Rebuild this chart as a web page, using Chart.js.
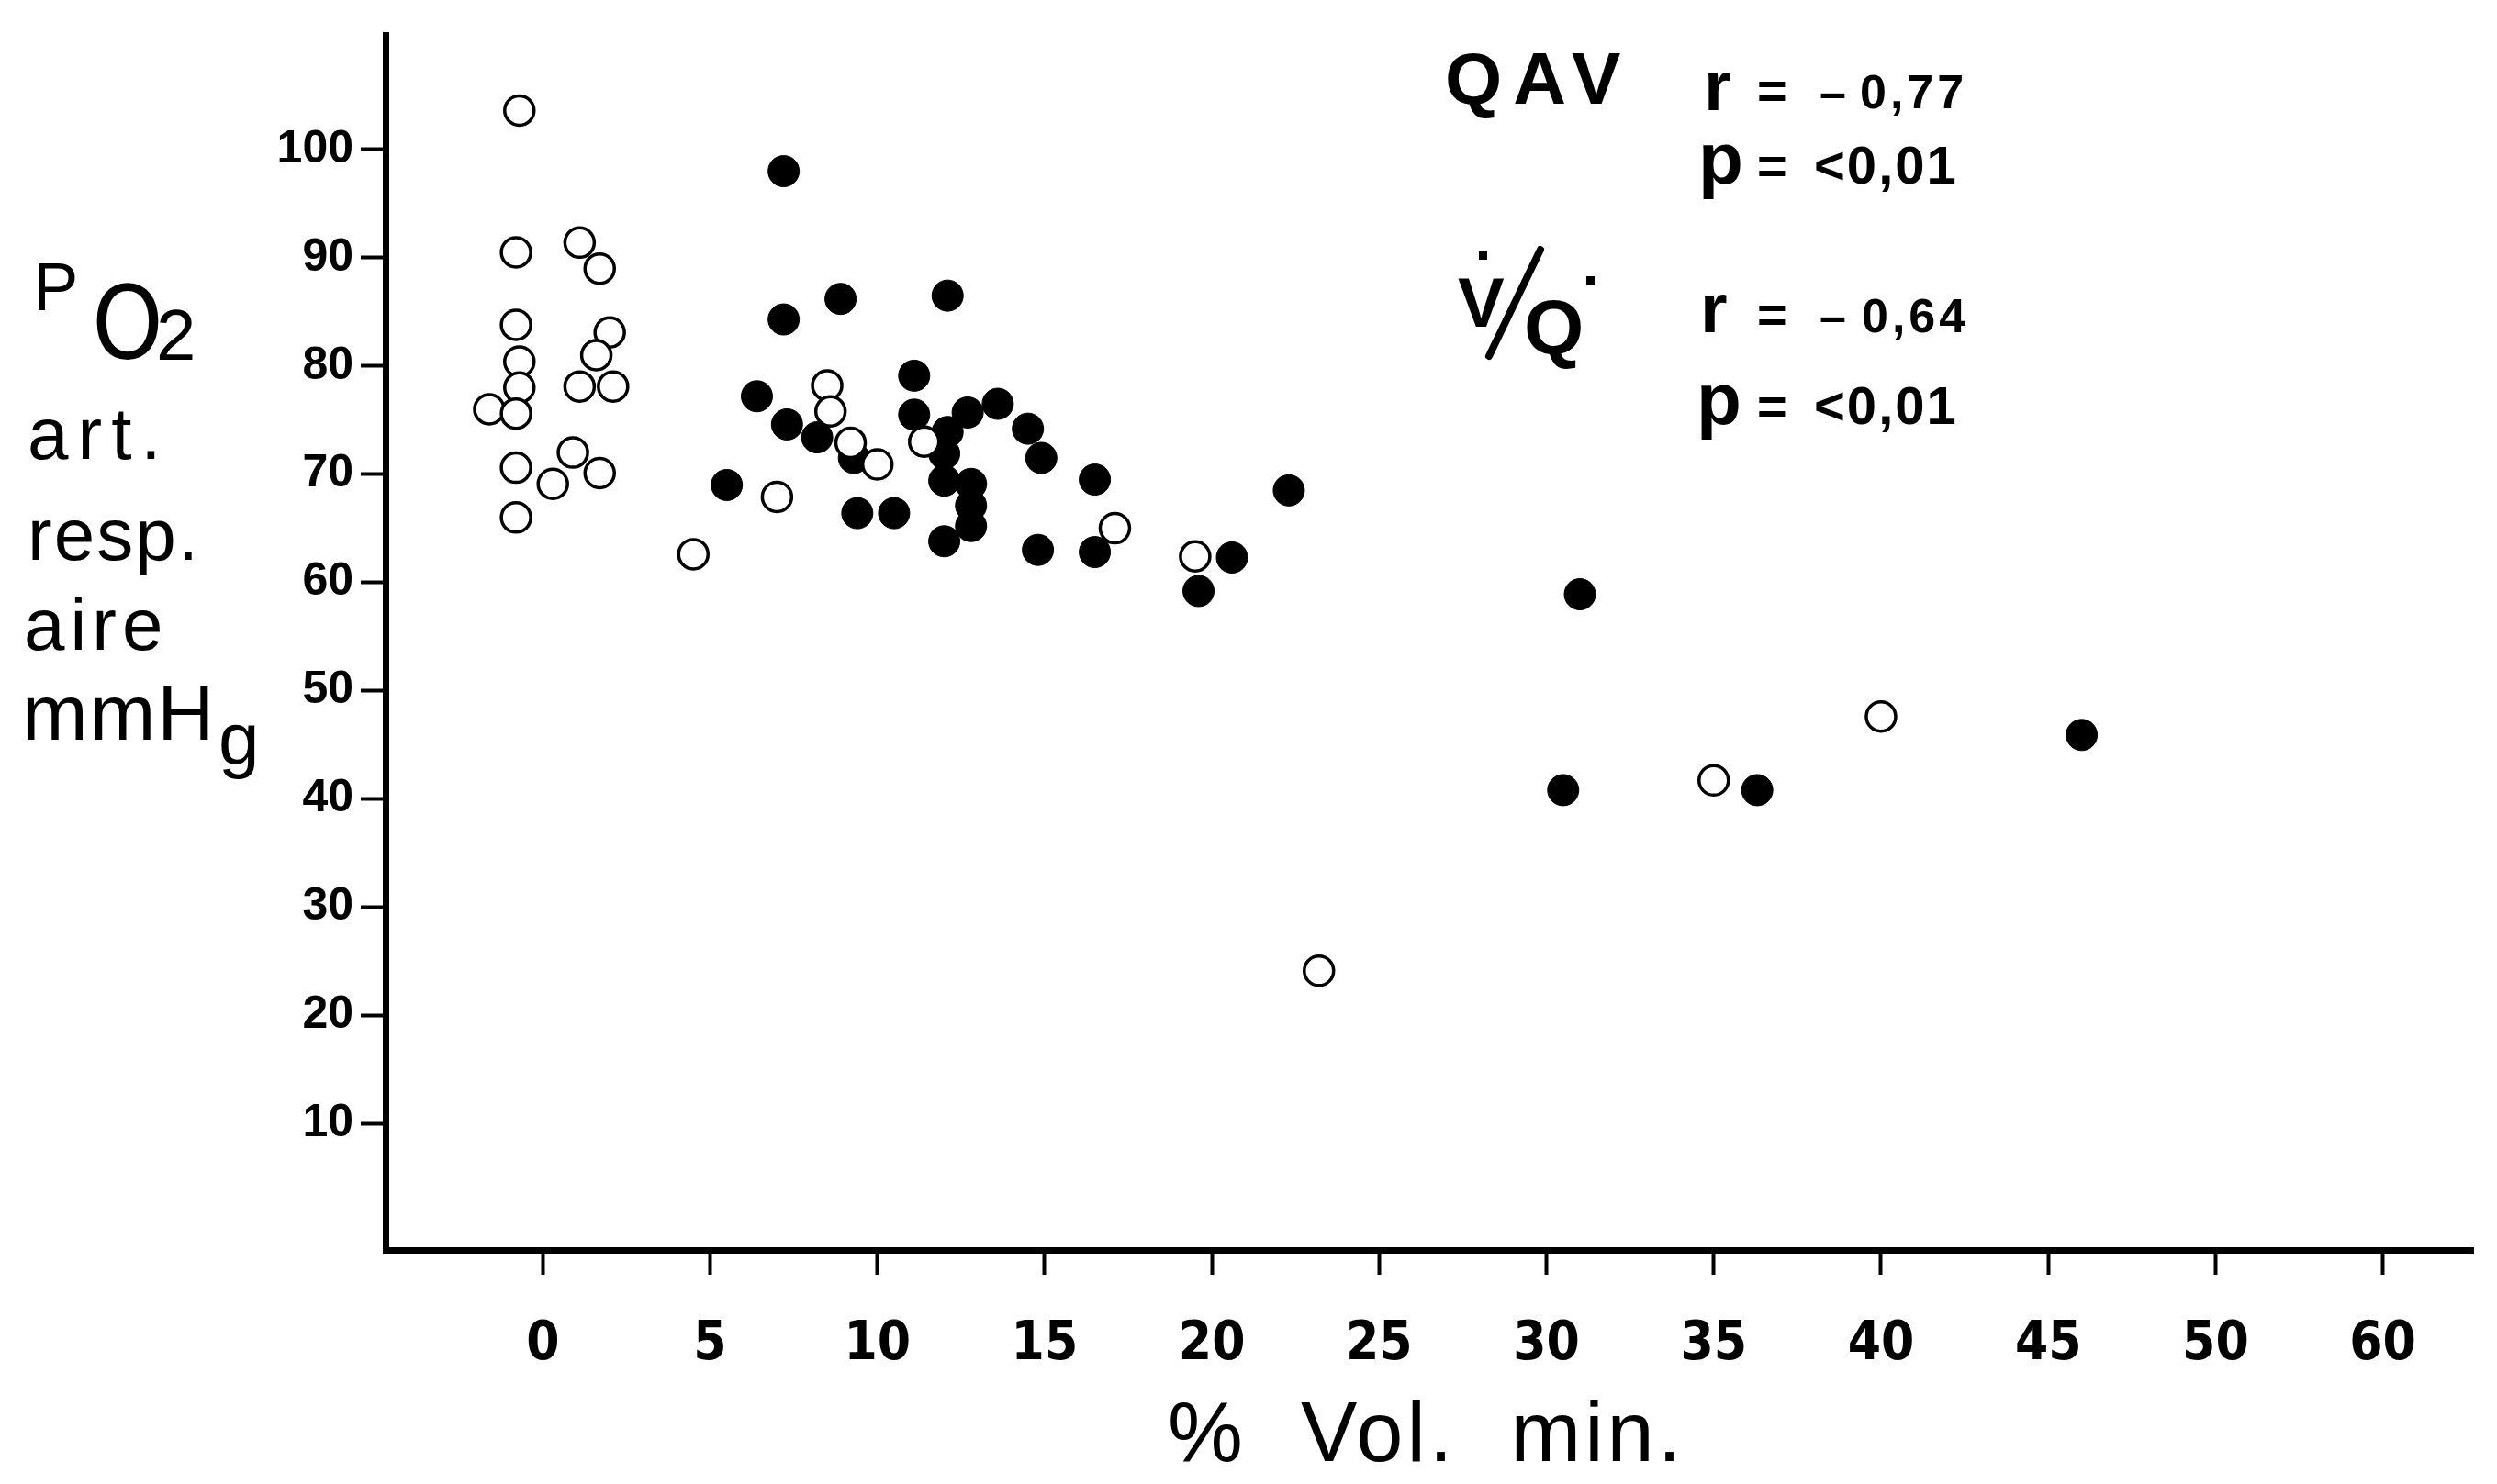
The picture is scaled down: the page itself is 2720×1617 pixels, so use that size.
<!DOCTYPE html>
<html>
<head>
<meta charset="utf-8">
<script src="https://cdn.jsdelivr.net/npm/chart.js@4.4.1/dist/chart.umd.min.js"></script>
<style>
  html, body { margin: 0; padding: 0; background: #fff; }
  canvas { display: block; }
</style>
</head>
<body>
<canvas id="po2_canvas" width="2720" height="1617"></canvas>
<script>
// tick labels (the last tick sits one step after 50 but reads 60)
var xTickLabels = ['0', '5', '10', '15', '20', '25', '30', '35', '40', '45', '50', '60'];
var yTickLabels = [10, 20, 30, 40, 50, 60, 70, 80, 90, 100];

// QAV / V/Q points: % Vol. min. against PO2
var openX = [-0.7, -0.8, 1.1, 1.7, -0.8, 2.0, -0.7, 1.6, -0.7, 1.1, 2.1, -1.6, -0.8, 0.9, -0.8,
             0.3, 1.7, -0.8, 4.5, 7.0, 8.5, 8.6, 9.2, 10.0, 11.4, 17.1, 19.5, 23.2, 35.0, 40.0];
var openY = [103.6, 90.5, 91.4, 89.0, 83.8, 83.1, 80.4, 81.0, 78.0, 78.1, 78.1, 76.0, 75.6, 72.0, 70.6,
             69.1, 70.1, 66.0, 62.6, 67.9, 78.2, 75.8, 72.9, 70.9, 73.0, 65.0, 62.4, 24.1, 41.7, 47.6];

var filledX = [7.2, 7.2, 8.9, 12.1, 6.4, 7.3, 8.2, 9.3, 5.5, 9.4, 10.5, 11.1, 11.1, 13.6, 12.7, 12.1, 12.0,
               12.0, 12.8, 12.8, 12.8, 12.0, 14.5, 14.9, 16.5, 14.8, 16.5, 22.3, 20.6, 19.6, 31.0, 30.5, 36.3, 46.0];
var filledY = [98.0, 84.3, 86.2, 86.5, 77.2, 74.6, 73.4, 71.5, 69.0, 66.4, 66.4, 79.1, 75.5, 76.5, 75.7, 73.9, 71.9,
               69.4, 69.1, 67.1, 65.2, 63.8, 74.2, 71.5, 69.5, 63.0, 62.8, 68.5, 62.3, 59.2, 58.9, 40.8, 40.8, 45.9];

function toPoints(xs, ys) {
    var pts = [];
    for (var i = 0; i < xs.length; i++) {
        pts.push({x: xs[i], y: ys[i]});
    }
    return pts;
}

var sans = '"Liberation Sans", "DejaVu Sans", sans-serif';
var narrow = '"Liberation Sans Narrow", "DejaVu Sans Condensed", "Liberation Sans", sans-serif';

// texts round the plot (axis titles and the correlation notes)
var textPlugin = {
    id: 'figureText',
    afterDraw: function(chart) {
        var ctx = chart.ctx;
        ctx.save();
        ctx.fillStyle = '#000';
        ctx.textAlign = 'left';
        ctx.textBaseline = 'alphabetic';

        function put(txt, x, y, font, spacing) {
            ctx.font = font;
            ctx.letterSpacing = (spacing || 0) + 'px';
            ctx.fillText(txt, x, y);
        }

        // y title
        put('P', 36, 338, '74px ' + sans);
        put('O', 100, 390, '110px ' + narrow);
        put('2', 170, 392, '78px ' + sans);
        put('art.', 30, 500, '80px ' + sans, 10);
        put('resp.', 30, 610, '80px ' + sans, 2);
        put('aire', 26, 708, '80px ' + sans, 6);
        put('mmH', 24, 806, '86px ' + sans, 2);
        put('g', 238, 832, '80px ' + sans);

        // x title
        put('%  Vol.  min.', 1272, 1592, '92px ' + sans, 4);

        // QAV
        put('QAV', 1574, 113, 'bold 80px ' + sans, 12);
        put('r', 1856, 120, 'bold 76px ' + sans);
        put('=', 1914, 118, 'bold 56px ' + sans);
        put('\u2013', 1982, 118, 'bold 52px ' + sans);
        put('0,77', 2026, 118, 'bold 52px ' + sans, 4);
        put('p', 1850, 200, 'bold 80px ' + sans);
        put('=', 1914, 200, 'bold 56px ' + sans);
        put('<0,01', 1976, 200, 'bold 58px ' + sans, 2);

        // V/Q
        put('V', 1588, 356, 'bold 76px ' + sans);
        put('Q', 1660, 386, 'bold 84px ' + sans);
        ctx.fillRect(1611, 274, 9, 9);
        ctx.fillRect(1728, 301, 9, 9);
        ctx.lineWidth = 8;
        ctx.lineCap = 'round';
        ctx.beginPath();
        ctx.moveTo(1678, 272);
        ctx.lineTo(1622, 388);
        ctx.stroke();
        put('r', 1852, 362, 'bold 76px ' + sans);
        put('=', 1914, 362, 'bold 56px ' + sans);
        put('\u2013', 1982, 362, 'bold 52px ' + sans);
        put('0,64', 2028, 362, 'bold 52px ' + sans, 4);
        put('p', 1848, 462, 'bold 80px ' + sans);
        put('=', 1914, 462, 'bold 56px ' + sans);
        put('<0,01', 1976, 462, 'bold 58px ' + sans, 2);

        ctx.restore();
    }
};

var context = document.getElementById('po2_canvas').getContext('2d');

var chart = new Chart(context, {
    type: 'scatter',
    data: {
        datasets: [{
            label: 'open',
            data: toPoints(openX, openY),
            pointStyle: 'circle',
            pointRadius: 16,
            pointBackgroundColor: '#fff',
            pointBorderColor: '#000',
            pointBorderWidth: 3.5,
            order: 0
        }, {
            label: 'filled',
            data: toPoints(filledX, filledY),
            pointStyle: 'circle',
            pointRadius: 17,
            pointBackgroundColor: '#000',
            pointBorderColor: '#000',
            pointBorderWidth: 1,
            order: 1
        }]
    },
    options: {
        responsive: false,
        animation: false,
        devicePixelRatio: 1,
        layout: { padding: { top: 26, right: 26, left: 0, bottom: 0 } },
        plugins: {
            legend: { display: false },
            tooltip: { enabled: false }
        },
        scales: {
            x: {
                type: 'linear',
                min: -4.7,
                max: 57.7,
                afterFit: function(scale) { scale.height = 255; },
                afterBuildTicks: function(scale) {
                    scale.ticks = xTickLabels.map(function(lab, i) { return {value: i * 5}; });
                },
                ticks: {
                    color: '#000',
                    padding: 42,
                    maxRotation: 0,
                    autoSkip: false,
                    font: { family: narrow, size: 58, weight: 'bold' },
                    callback: function(value) { return xTickLabels[value / 5]; }
                },
                grid: {
                    drawOnChartArea: false,
                    drawTicks: true,
                    tickLength: 27,
                    tickWidth: 4,
                    tickColor: '#000'
                },
                border: { display: true, width: 7, color: '#000' }
            },
            y: {
                type: 'linear',
                min: -1.7,
                max: 110.6,
                afterFit: function(scale) { scale.width = 420; },
                afterBuildTicks: function(scale) {
                    scale.ticks = yTickLabels.map(function(v) { return {value: v}; });
                },
                ticks: {
                    color: '#000',
                    padding: 8,
                    autoSkip: false,
                    font: { family: sans, size: 50, weight: 'bold' }
                },
                grid: {
                    drawOnChartArea: false,
                    drawTicks: true,
                    tickLength: 27,
                    tickWidth: 4,
                    tickColor: '#000'
                },
                border: { display: true, width: 7, color: '#000' }
            }
        }
    },
    plugins: [textPlugin]
});
</script>
</body>
</html>
